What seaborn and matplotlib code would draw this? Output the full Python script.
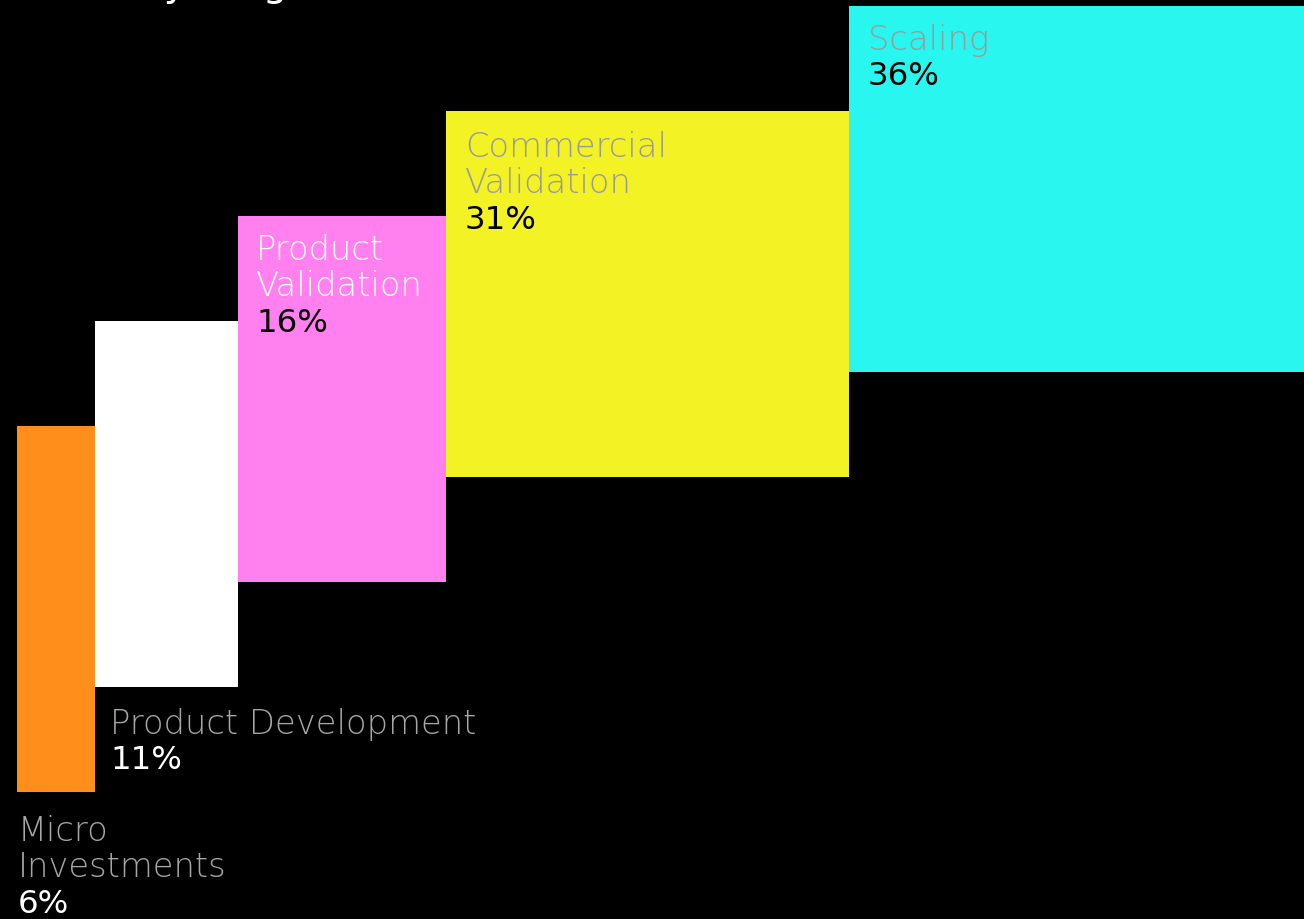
import matplotlib
matplotlib.use("Agg")
import matplotlib.pyplot as plt
import seaborn as sns
import numpy as np

# Share of deals by company stage (percent)
stages = ["Micro\nInvestments", "Product Development", "Product\nValidation",
          "Commercial\nValidation", "Scaling"]
shares = [6, 11, 16, 31, 36]
pct_labels = ["6%", "11%", "16%", "31%", "36%"]
colors = ["#FF8F1A", "#FFFFFF", "#FF80EE", "#F3F224", "#29F6EE"]

title = "Deals by Stage"

sns.set_theme(style="white")
plt.rcParams["font.family"] = ["DejaVu Sans"]

W, H = 1304, 920
fig = plt.figure(figsize=(W / 100, H / 100), dpi=100, facecolor="black")
ax = fig.add_axes([0, 0, 1, 1])
ax.set_facecolor("black")

# each stage steps up by one unit; every block has the same height
step_height = 366 / 105
lefts = np.concatenate([[0], np.cumsum(shares)[:-1]])
bottoms = np.arange(len(shares), dtype=float)

sns.barplot(x=stages, y=[step_height] * len(stages), hue=stages,
            palette=colors, legend=False, ax=ax, width=1,
            linewidth=0, saturation=1)

# reshape each bar into a block whose width is its share
for patch, left, width, bottom in zip(ax.patches, lefts, shares, bottoms):
    patch.set_x(left)
    patch.set_width(width)
    patch.set_y(bottom)
    patch.set_height(step_height)

px_per_pct = 13
ax.set_xlim(-17 / px_per_pct, (W - 17) / px_per_pct)
ax.set_ylim(-127 / 105, (H - 127) / 105)
ax.set_axis_off()

# label layout: inside the block (top-left) or below it
placement = ["below", "below", "inside", "inside", "inside"]
name_colors = ["#A6A6A6", "#A6A6A6", "#FFFFFF", "#9A9A9A", "#9A9A9A"]
pct_colors = ["#FFFFFF", "#FFFFFF", "#000000", "#000000", "#000000"]
x_offsets = [1, 15, 18, 19, 19]
y_offsets = [22, 20, 17, 19, 17]

fs = 24.3
line_px = 37
for i, (name, pct) in enumerate(zip(stages, pct_labels)):
    if placement[i] == "inside":
        anchor = (lefts[i], bottoms[i] + step_height)
    else:
        anchor = (lefts[i], bottoms[i])
    dx = x_offsets[i]
    dy = -y_offsets[i]
    n_lines = name.count("\n") + 1
    ax.annotate(name, xy=anchor, xytext=(dx, dy), textcoords="offset pixels",
                ha="left", va="top", fontsize=fs, color=name_colors[i],
                fontweight="light", linespacing=1.13)
    ax.annotate(pct, xy=anchor, xytext=(dx, dy - n_lines * line_px),
                textcoords="offset pixels", ha="left", va="top",
                fontsize=fs - 1, color=pct_colors[i], fontweight="medium")

fig.text(18 / W, 1 + 4 / H, title, ha="left", va="baseline",
         fontsize=28, color="white")

fig.savefig("out.png", dpi=100, facecolor="black")
